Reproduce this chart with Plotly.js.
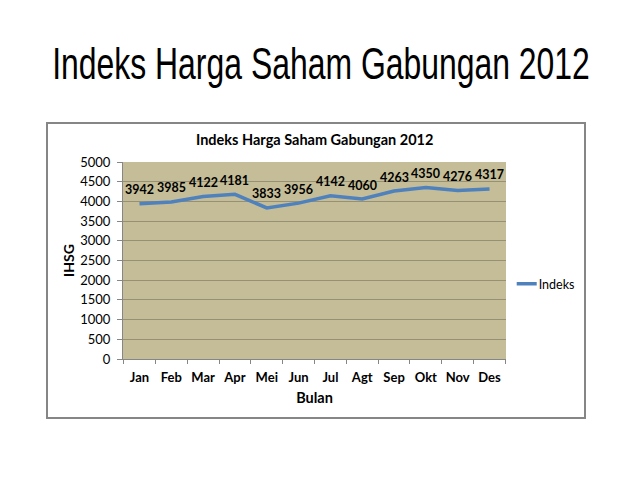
<!DOCTYPE html>
<html>
<head>
<meta charset="utf-8">
<script src="https://cdn.plot.ly/plotly-3.0.1.min.js"></script>
<style>html,body{margin:0;padding:0;background:#fff;}#chart{width:640px;height:480px;}</style>
</head>
<body>
<div id="chart"></div>
<script>
var months = ["Jan","Feb","Mar","Apr","Mei","Jun","Jul","Agt","Sep","Okt","Nov","Des"];
var indeks = [3942,3985,4122,4181,3833,3956,4142,4060,4263,4350,4276,4317];
var seriesName = "Indeks";
var slideTitle = "Indeks Harga Saham Gabungan 2012";
var chartTitle = "Indeks Harga Saham Gabungan 2012";
var xTitle = "Bulan";
var yTitle = "IHSG";

var FONT = "Lato, 'Open Sans', sans-serif";

var trace = {
  x: months,
  y: indeks,
  name: seriesName,
  type: "scatter",
  mode: "lines",
  line: {color: "#4F81BD", width: 3.5}
};

var labelAnns = months.map(function (m, i) {
  return {
    x: m, y: indeks[i], xref: "x", yref: "y",
    text: String(indeks[i]),
    showarrow: false, yanchor: "middle", xanchor: "center",
    yshift: 14,
    font: {family: FONT, size: 12.5, color: "#000", weight: "bold"}
  };
});

var layout = {
  width: 640, height: 480,
  paper_bgcolor: "#ffffff",
  plot_bgcolor: "#C4BD97",
  margin: {l: 123, r: 134, t: 162, b: 121, pad: 0},
  showlegend: true,
  title: {
    text: slideTitle,
    font: {family: "'Liberation Sans', Arial, sans-serif", size: 45, color: "#000"},
    x: 0.5, xanchor: "center", xref: "container",
    y: 1 - 63/480, yanchor: "middle", yref: "container"
  },
  xaxis: {
    type: "category",
    tickson: "boundaries",
    tickangle: 0,
    ticks: "outside", ticklen: 4, tickcolor: "#868686",
    ticklabelstandoff: 6,
    showline: true, linecolor: "#868686", linewidth: 1,
    showgrid: false,
    tickfont: {family: FONT, size: 13, color: "#000", weight: "bold"},
    title: {text: xTitle, font: {family: FONT, size: 14.5, color: "#000", weight: "bold"}, standoff: 9}
  },
  yaxis: {
    range: [0, 5000],
    dtick: 500,
    ticks: "outside", ticklen: 5, tickcolor: "#868686",
    ticklabelstandoff: 4,
    showline: true, linecolor: "#868686", linewidth: 1,
    showgrid: true, gridcolor: "#969076", gridwidth: 1,
    zeroline: false,
    tickfont: {family: FONT, size: 13, color: "#000"},
    title: {text: yTitle, font: {family: FONT, size: 14, color: "#000", weight: "bold"}, standoff: 2}
  },
  legend: {
    x: 1.0149, xanchor: "left", y: (359-284)/197, yanchor: "middle",
    font: {family: FONT, size: 12.5, color: "#000"},
    bgcolor: "rgba(0,0,0,0)"
  },
  annotations: labelAnns.concat([{
    text: chartTitle,
    xref: "paper", yref: "paper",
    x: 0.5, y: 1 + 22/197, xanchor: "center", yanchor: "middle",
    showarrow: false,
    font: {family: FONT, size: 14.5, color: "#000", weight: "bold"}
  }]),
  shapes: [{
    type: "rect", xref: "paper", yref: "paper",
    x0: (47-123)/383, x1: (585-123)/383,
    y0: -(418-359)/197, y1: 1 + (162-123)/197,
    line: {color: "#868686", width: 2},
    fillcolor: "rgba(0,0,0,0)",
    layer: "below"
  }]
};

Plotly.newPlot("chart", [trace], layout, {displayModeBar: false, staticPlot: true}).then(function (gd) {
  // Condense the slide title horizontally (Arial Narrow look)
  var t = gd.querySelector(".gtitle");
  if (t) {
    var bb = t.getBBox();
    var s = 538 / bb.width;
    var cx = bb.x + bb.width / 2;
    t.setAttribute("transform", "translate(321,0) scale(" + s + ",1) translate(" + (-cx) + ",0)");
  }
  // Shorter legend line sample, like the reference
  gd.querySelectorAll(".legend .legendlines path").forEach(function (p) {
    p.setAttribute("d", "M5,0h20");
  });
  gd.querySelectorAll(".legend .legendtext").forEach(function (tx) {
    tx.setAttribute("x", "27");
  });
});
</script>
</body>
</html>
